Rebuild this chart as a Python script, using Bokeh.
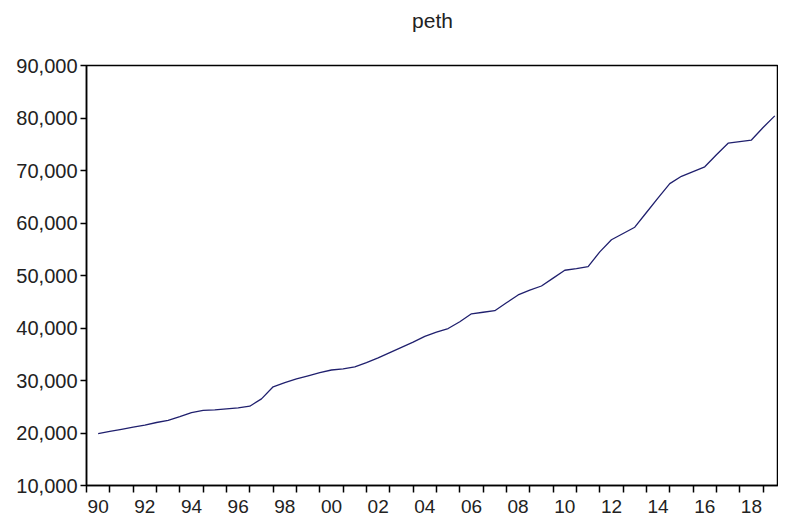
from bokeh.plotting import figure
from bokeh.models import FixedTicker, NumeralTickFormatter, CustomJSTickFormatter, Range1d
from bokeh.embed import file_html
from bokeh.resources import INLINE

# time positions (decimal years) and series values
years = [1990.5, 1991.0, 1991.5, 1992.0, 1992.5, 1993.0, 1993.5, 1994.0, 1994.5, 1995.0,
         1995.5, 1996.0, 1996.5, 1997.0, 1997.5, 1998.0, 1998.5, 1999.0, 1999.5, 2000.0,
         2000.5, 2001.0, 2001.5, 2002.0, 2002.5, 2003.0, 2003.5, 2004.0, 2004.5, 2005.0,
         2005.5, 2006.0, 2006.5, 2007.0, 2007.5, 2008.0, 2008.5, 2009.0, 2009.5, 2010.0,
         2010.5, 2011.0, 2011.5, 2012.0, 2012.5, 2013.0, 2013.5, 2014.0, 2014.5, 2015.0,
         2015.5, 2016.0, 2016.5, 2017.0, 2017.5, 2018.0, 2018.5, 2019.0, 2019.5]
peth = [19870, 20300, 20700, 21100, 21500, 22000, 22400, 23100, 23900, 24300,
        24400, 24600, 24800, 25100, 26500, 28800, 29600, 30300, 30900, 31500,
        32000, 32200, 32600, 33400, 34300, 35300, 36300, 37300, 38400, 39200,
        39900, 41200, 42700, 43000, 43300, 44800, 46300, 47200, 48000, 49500,
        51000, 51300, 51700, 54500, 56800, 58000, 59200, 62000, 64800, 67500,
        68900, 69800, 70700, 73000, 75200, 75500, 75800, 78200, 80400]

year_ticks = list(range(1990, 2021))
label_positions = [1990.5, 1992.5, 1994.5, 1996.5, 1998.5, 2000.5, 2002.5, 2004.5,
                   2006.5, 2008.5, 2010.5, 2012.5, 2014.5, 2016.5, 2018.5]
label_texts = ["90", "92", "94", "96", "98", "00", "02", "04",
               "06", "08", "10", "12", "14", "16", "18"]
y_ticks = [10000, 20000, 30000, 40000, 50000, 60000, 70000, 80000, 90000]
title_text = "peth"

FONT = "Liberation Sans"
TXT = "#222222"

p = figure(width=778, height=515, output_backend="svg", toolbar_location=None,
           x_range=Range1d(1990, 2019.66), y_range=Range1d(10000, 90000),
           min_border_left=86, min_border_right=0, min_border_top=65, min_border_bottom=27,
           title=title_text + "\n")
p.title.align = "center"
p.title.text_font = FONT
p.title.text_font_size = "21px"
p.title.text_font_style = "normal"
p.title.text_color = TXT
p.title.text_line_height = 1.35
p.title.standoff = 4

p.line(years, peth, line_color="#20206e", line_width=1.3)

p.grid.visible = False
p.outline_line_color = "black"
p.outline_line_width = 1.5
p.background_fill_color = "white"
p.border_fill_color = "white"

# x axis
xa = p.xaxis[0]
xa.ticker = FixedTicker(ticks=label_positions, minor_ticks=year_ticks)
xa.formatter = CustomJSTickFormatter(args=dict(pos=label_positions, labs=label_texts), code="""
    const i = pos.indexOf(tick);
    return i >= 0 ? labs[i] : "";
""")
xa.major_tick_in = 0
xa.major_tick_out = 0
xa.minor_tick_in = 0
xa.minor_tick_out = 7
xa.minor_tick_line_color = "black"
xa.minor_tick_line_width = 1.5
xa.axis_line_color = "black"
xa.axis_line_width = 1.5
xa.major_label_standoff = 7
xa.major_label_text_font = FONT
xa.major_label_text_font_size = "19px"
xa.major_label_text_color = TXT

# y axis
ya = p.yaxis[0]
ya.ticker = FixedTicker(ticks=y_ticks)
ya.formatter = NumeralTickFormatter(format="0,0")
ya.major_tick_in = 0
ya.major_tick_out = 6
ya.minor_tick_in = 0
ya.minor_tick_out = 0
ya.major_tick_line_width = 1.5
ya.axis_line_width = 1.5
ya.major_label_standoff = 3
ya.major_label_text_font = FONT
ya.major_label_text_font_size = "20px"
ya.major_label_text_color = TXT

open("out.html", "w").write(file_html(p, INLINE))
